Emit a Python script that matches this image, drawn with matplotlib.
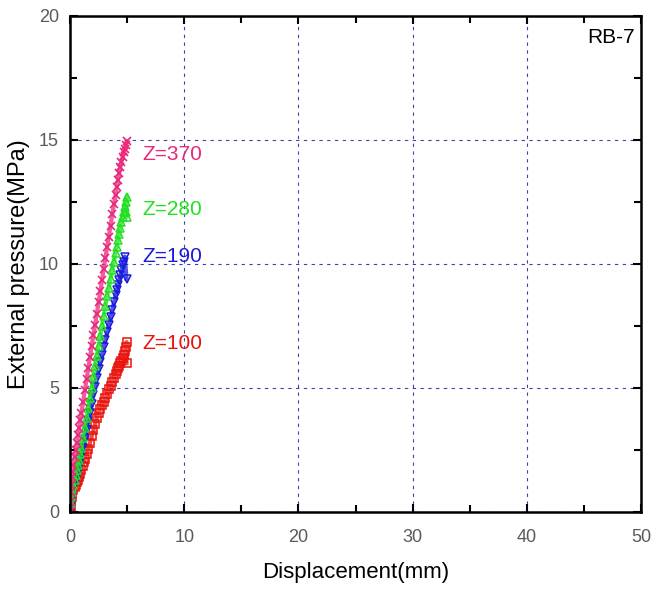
import matplotlib
matplotlib.use("Agg")
import matplotlib.pyplot as plt
from matplotlib.ticker import MultipleLocator

plt.rcParams['font.family'] = ['Liberation Sans', 'DejaVu Sans']

# displacement (mm) / external pressure (MPa)
z100_x = [0.0, 0.05, 0.1, 0.15, 0.2, 0.3, 0.4, 0.5, 0.6, 0.7, 0.8, 0.9, 1.0, 1.1, 1.2, 1.3, 1.45, 1.6,
          1.75, 1.9, 2.05, 2.2, 2.35, 2.5, 2.65, 2.8, 2.95, 3.1, 3.25, 3.4, 3.55, 3.7, 3.85, 4.0,
          4.1, 4.2, 4.3, 4.4, 4.5, 4.6, 4.7, 4.8, 4.9, 4.95, 4.95]
z100_y = [0.0, 0.2, 0.4, 0.6, 0.75, 0.9, 1.0, 1.1, 1.2, 1.3, 1.4, 1.55, 1.7, 1.85, 2.0, 2.15, 2.35, 2.55,
          2.8, 3.05, 3.3, 3.55, 3.8, 4.0, 4.15, 4.3, 4.45, 4.6, 4.75, 4.95, 5.1, 5.25, 5.4, 5.55,
          5.7, 5.8, 5.9, 6.0, 6.1, 6.2, 6.35, 6.5, 6.65, 6.85, 6.0]
z190_x = [0.0, 0.05, 0.1, 0.15, 0.2, 0.3, 0.4, 0.5, 0.6, 0.7, 0.8, 0.9, 1.0, 1.15, 1.3, 1.45, 1.6,
          1.75, 1.9, 2.05, 2.2, 2.35, 2.5, 2.65, 2.8, 2.95, 3.1, 3.25, 3.4, 3.55, 3.7, 3.85, 4.0,
          4.1, 4.2, 4.3, 4.4, 4.5, 4.6, 4.7, 4.8, 4.95]
z190_y = [0.0, 0.3, 0.5, 0.7, 0.85, 1.0, 1.15, 1.3, 1.45, 1.6, 1.8, 2.0, 2.25, 2.6, 2.95, 3.3, 3.65,
          4.0, 4.35, 4.7, 5.05, 5.4, 5.75, 6.05, 6.35, 6.65, 6.95, 7.25, 7.55, 7.85, 8.15, 8.45, 8.75,
          8.95, 9.15, 9.35, 9.55, 9.75, 9.95, 10.1, 10.3, 9.4]
z280_x = [0.0, 0.05, 0.1, 0.15, 0.2, 0.3, 0.4, 0.5, 0.6, 0.7, 0.8, 0.9, 1.0, 1.15, 1.3, 1.45, 1.6,
          1.75, 1.9, 2.05, 2.2, 2.35, 2.5, 2.65, 2.8, 2.95, 3.1, 3.25, 3.4, 3.55, 3.7, 3.85, 4.0,
          4.1, 4.2, 4.3, 4.4, 4.5, 4.6, 4.7, 4.8, 4.9, 4.95, 4.95, 4.9]
z280_y = [0.0, 0.35, 0.6, 0.8, 0.95, 1.1, 1.3, 1.5, 1.7, 1.9, 2.1, 2.35, 2.6, 3.0, 3.4, 3.8, 4.2,
          4.6, 5.0, 5.45, 5.9, 6.3, 6.7, 7.1, 7.5, 7.9, 8.3, 8.7, 9.05, 9.4, 9.75, 10.1, 10.45,
          10.7, 10.95, 11.2, 11.45, 11.7, 11.9, 12.1, 12.3, 12.5, 12.7, 11.9, 12.1]
z370_x = [0.0, 0.03, 0.06, 0.1, 0.15, 0.2, 0.3, 0.4, 0.5, 0.6, 0.7, 0.8, 0.9, 1.0, 1.15, 1.3, 1.45,
          1.6, 1.75, 1.9, 2.05, 2.2, 2.35, 2.5, 2.65, 2.8, 2.95, 3.1, 3.25, 3.4, 3.55, 3.7, 3.85,
          4.0, 4.1, 4.2, 4.3, 4.4, 4.5, 4.6, 4.7, 4.8, 4.9, 4.95]
z370_y = [0.0, 0.4, 0.8, 1.1, 1.4, 1.6, 1.9, 2.2, 2.5, 2.8, 3.1, 3.4, 3.7, 4.0, 4.45, 4.9, 5.35,
          5.8, 6.25, 6.7, 7.15, 7.55, 8.0, 8.45, 8.9, 9.35, 9.8, 10.25, 10.7, 11.1, 11.55, 12.0, 12.4,
          12.8, 13.1, 13.4, 13.65, 13.9, 14.1, 14.3, 14.5, 14.65, 14.8, 14.95]

series = [
    ("Z=100", z100_x, z100_y, "#e8140c", "s", 6.8),
    ("Z=190", z190_x, z190_y, "#1a1adc", "v", 10.3),
    ("Z=280", z280_x, z280_y, "#22e022", "^", 12.2),
    ("Z=370", z370_x, z370_y, "#e8287a", "x", 14.4),
]

fig = plt.figure(figsize=(6.61, 5.89), dpi=100)
ax = fig.add_axes([70 / 661, 77 / 589, 571 / 661, 496 / 589])

for name, xs, ys, col, mk, ylab in series:
    ax.plot(xs, ys, color=col, lw=3, alpha=0.75)
    if mk == "x":
        ax.plot(xs, ys, linestyle="none", marker=mk, ms=6, color=col, mew=1.2)
    else:
        ax.plot(xs, ys, linestyle="none", marker=mk, ms=6, mfc="none", mec=col, mew=1.1)
    ax.text(6.3, ylab, name, color=col, fontsize=15, va="center", ha="left")

ax.set_xlim(0, 50)
ax.set_ylim(0, 20)
ax.xaxis.set_major_locator(MultipleLocator(10))
ax.xaxis.set_minor_locator(MultipleLocator(5))
ax.yaxis.set_major_locator(MultipleLocator(5))
ax.yaxis.set_minor_locator(MultipleLocator(2.5))
ax.tick_params(which="both", direction="in", width=1.5, labelsize=13, labelcolor="#5a5a5a",
               top=True, right=True)
ax.tick_params(which="major", length=6)
ax.tick_params(axis="x", which="major", pad=12)
ax.tick_params(axis="y", which="major", pad=8)
ax.tick_params(which="minor", length=5)
ax.grid(True, which="major", color="#4040b0", linestyle=(0, (3, 4)), lw=0.8)
for s in ax.spines.values():
    s.set_linewidth(1.8)

ax.text(0.99, 0.975, "RB-7", transform=ax.transAxes, ha="right", va="top", fontsize=15)
ax.set_xlabel("Displacement(mm)", fontsize=16, labelpad=12)
ax.set_ylabel("External pressure(MPa)", fontsize=17, labelpad=6)

fig.savefig("out.png", dpi=100)
